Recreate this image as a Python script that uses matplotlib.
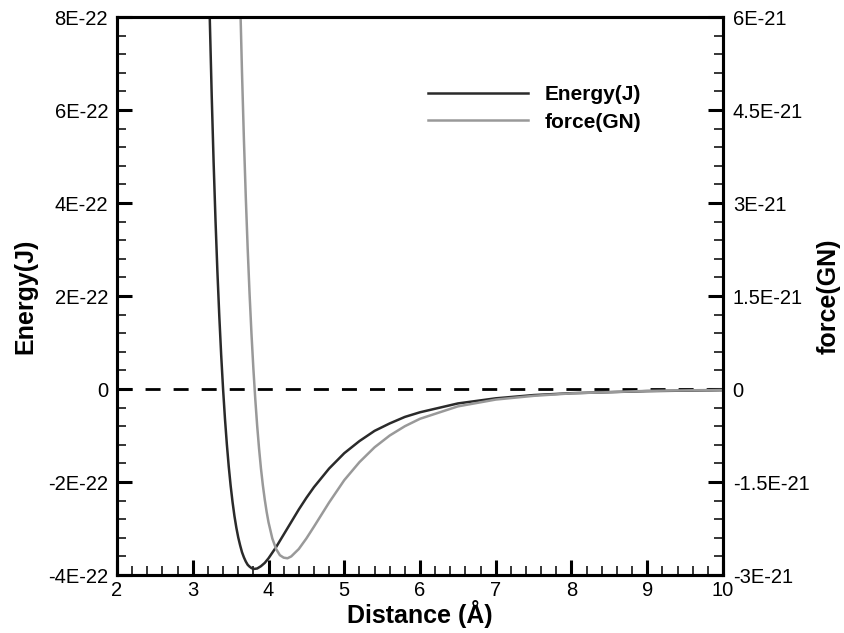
import matplotlib
matplotlib.use("Agg")
import matplotlib.pyplot as plt
from matplotlib.ticker import FixedLocator, MultipleLocator

plt.rcParams['font.family'] = ['Liberation Sans', 'DejaVu Sans']

# energy curve, values in units of 1E-22 J
dist_e = [3.2, 3.225, 3.25, 3.275, 3.3, 3.325, 3.35, 3.375, 3.4, 3.425, 3.45,
          3.475, 3.5, 3.525, 3.55, 3.575, 3.6, 3.625, 3.65, 3.675, 3.7, 3.725,
          3.75, 3.775, 3.8, 3.85, 3.9, 3.95, 4.0, 4.1, 4.2, 4.3, 4.4, 4.5, 4.6,
          4.8, 5.0, 5.2, 5.4, 5.6, 5.8, 6.0, 6.5, 7.0, 7.5, 8.0, 9.0, 10.0]
energy = [9.77, 7.93, 6.31, 4.88, 3.63, 2.53, 1.57, 0.73, 0.0, -0.64, -1.19,
          -1.67, -2.08, -2.43, -2.73, -2.98, -3.19, -3.36, -3.51, -3.62, -3.71,
          -3.78, -3.82, -3.85, -3.87, -3.86, -3.81, -3.74, -3.64, -3.40, -3.13,
          -2.86, -2.59, -2.34, -2.11, -1.71, -1.38, -1.12, -0.90, -0.74, -0.60,
          -0.50, -0.31, -0.20, -0.13, -0.09, -0.045, -0.024]

# force curve, values in units of 1E-21 GN
dist_f = [3.6, 3.625, 3.65, 3.675, 3.7, 3.725, 3.75, 3.775, 3.8, 3.825, 3.85,
          3.875, 3.9, 3.925, 3.95, 3.975, 4.0, 4.05, 4.1, 4.15, 4.2, 4.25, 4.3,
          4.4, 4.5, 4.6, 4.8, 5.0, 5.2, 5.4, 5.6, 5.8, 6.0, 6.5, 7.0, 7.5, 8.0,
          9.0, 10.0]
force = [7.68, 6.31, 5.10, 4.03, 3.09, 2.26, 1.53, 0.89, 0.33, -0.16, -0.59,
         -0.96, -1.28, -1.55, -1.78, -1.98, -2.15, -2.41, -2.58, -2.68, -2.72,
         -2.73, -2.70, -2.58, -2.41, -2.22, -1.83, -1.47, -1.18, -0.94, -0.75,
         -0.60, -0.48, -0.28, -0.17, -0.11, -0.07, -0.03, -0.014]

x_ticks = [2, 3, 4, 5, 6, 7, 8, 9, 10]
e_ticks = [-4, -2, 0, 2, 4, 6, 8]
e_labels = ['-4E-22', '-2E-22', '0', '2E-22', '4E-22', '6E-22', '8E-22']
f_ticks = [-3, -1.5, 0, 1.5, 3, 4.5, 6]
f_labels = ['-3E-21', '-1.5E-21', '0', '1.5E-21', '3E-21', '4.5E-21', '6E-21']

fig = plt.figure(figsize=(8.45, 6.33), dpi=100)
ax = fig.add_axes([0.1385, 0.0916, 0.7171, 0.8815])
ax2 = ax.twinx()

l1, = ax.plot(dist_e, energy, color='#2a2a2a', lw=1.8, label='Energy(J)')
l2, = ax2.plot(dist_f, force, color='#999999', lw=1.8, label='force(GN)')
ax.axhline(0, color='black', lw=2, dashes=(5.4, 4.7))

ax.set_xlim(2, 10)
ax.set_ylim(-4, 8)
ax2.set_ylim(-3, 6)

ax.xaxis.set_major_locator(FixedLocator(x_ticks))
ax.xaxis.set_minor_locator(MultipleLocator(0.2))
ax.yaxis.set_major_locator(FixedLocator(e_ticks))
ax.yaxis.set_minor_locator(MultipleLocator(0.4))
ax.set_yticklabels(e_labels)
ax2.yaxis.set_major_locator(FixedLocator(f_ticks))
ax2.yaxis.set_minor_locator(MultipleLocator(0.3))
ax2.set_yticklabels(f_labels)

for a in (ax, ax2):
    for s in a.spines.values():
        s.set_linewidth(2.2)
ax.tick_params(which='both', direction='in', top=False, right=False, labelsize=14.5)
ax.tick_params(which='major', length=11, width=2.2)
ax.tick_params(which='minor', length=6.5, width=1.1)
ax.tick_params(axis='y', pad=6.5)
ax.tick_params(axis='x', pad=4)
ax2.tick_params(which='both', direction='in', labelsize=14.5, pad=7)
ax2.tick_params(which='major', length=11, width=2.2)
ax2.tick_params(which='minor', length=6.5, width=1.1)

ax.set_xlabel('Distance (Å)', fontsize=18, fontweight='bold')
ax.set_ylabel('Energy(J)', fontsize=18, fontweight='bold')
ax2.set_ylabel('force(GN)', fontsize=18, fontweight='bold')
ax.xaxis.set_label_coords(0.5, -0.045)
ax.yaxis.set_label_coords(-0.132, 0.5)
ax2.yaxis.set_label_coords(1.155, 0.5)

ax2.legend(handles=[l1, l2], loc='center left', bbox_to_anchor=(0.513, 0.836),
           frameon=False, prop={'weight': 'bold', 'size': 15},
           handlelength=4.8, handletextpad=0.8, labelspacing=0.4,
           borderpad=0, borderaxespad=0)

fig.savefig('out.png', dpi=100)
